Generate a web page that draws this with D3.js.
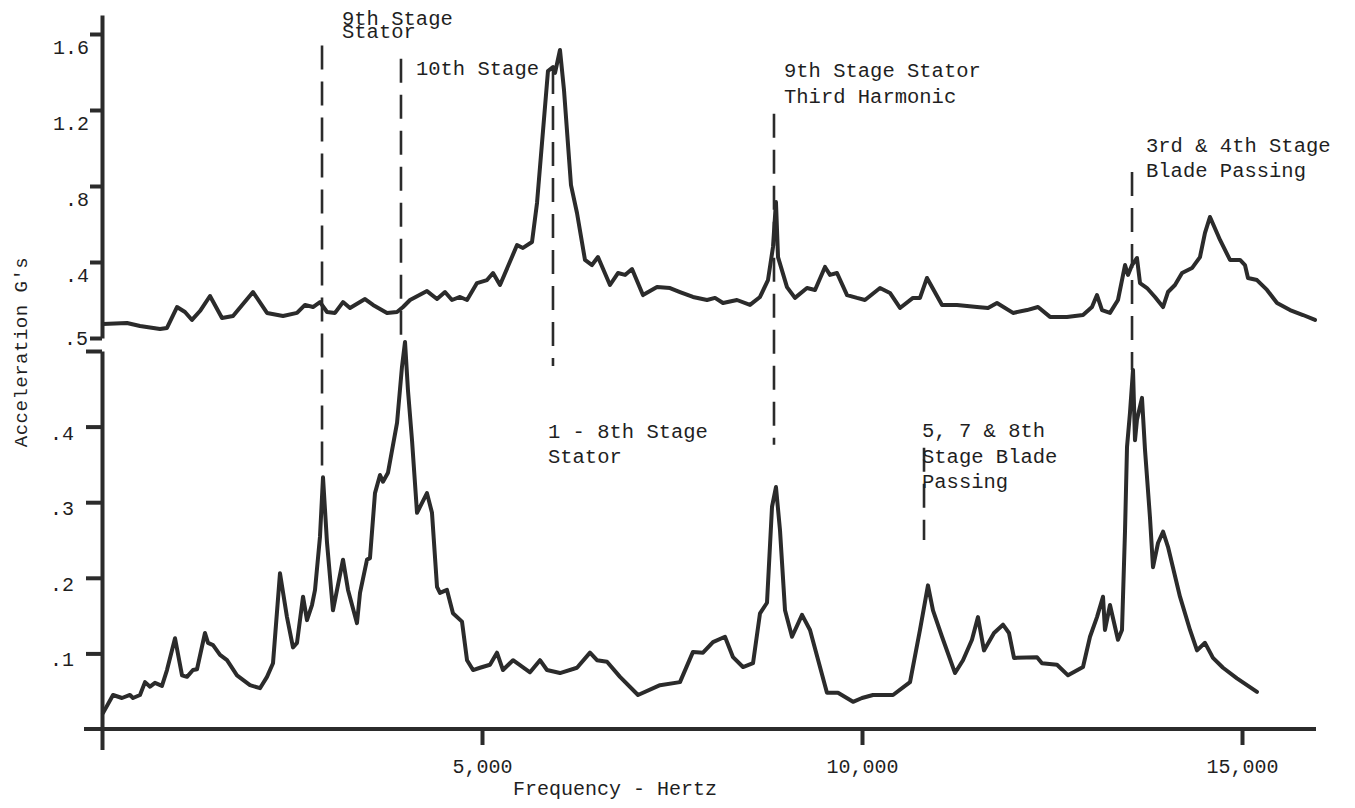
<!DOCTYPE html>
<html>
<head>
<meta charset="utf-8">
<title>Acceleration spectrum</title>
<script src="https://cdn.jsdelivr.net/npm/d3@7"></script>
<style>
  html, body { margin: 0; padding: 0; background: #ffffff; }
  svg { display: block; }
  text { font-family: "Liberation Mono", "Courier New", monospace; fill: #1f1f1f; }
</style>
</head>
<body>
<svg id="chart" width="1355" height="808"></svg>
<script>
// ---- Upper trace: frequency (Hz) and acceleration (G's)
const topFreq = [13, 329, 500, 763, 855, 987, 1092, 1184, 1289, 1421, 1579, 1724, 1987, 2171, 2382, 2566,
  2671, 2776, 2868, 2961, 3066, 3171, 3263, 3461, 3566, 3750, 3882, 3961, 4053, 4276, 4408, 4513, 4605,
  4711, 4803, 4934, 5066, 5145, 5237, 5461, 5539, 5658, 5724, 5868, 5934, 5961, 6026, 6079, 6171, 6250,
  6355, 6447, 6526, 6684, 6789, 6882, 6974, 7118, 7303, 7474, 7605, 7776, 7961, 8066, 8171, 8355, 8526,
  8658, 8763, 8829, 8868, 8895, 9013, 9118, 9276, 9382, 9513, 9579, 9671, 9803, 9934, 10039, 10237,
  10368, 10500, 10671, 10763, 10855, 10921, 11053, 11250, 11513, 11658, 11776, 11987, 12171, 12316,
  12474, 12697, 12908, 13026, 13092, 13158, 13263, 13368, 13461, 13500, 13553, 13618, 13658, 13750,
  13855, 13961, 14026, 14118, 14211, 14342, 14447, 14513, 14579, 14711, 14842, 14974, 15039, 15079,
  15197, 15329, 15461, 15632, 15803, 15961];
const topAccel = [0.074, 0.079, 0.063, 0.047, 0.053, 0.163, 0.137, 0.095, 0.142, 0.221, 0.105, 0.116, 0.242,
  0.132, 0.116, 0.132, 0.174, 0.163, 0.189, 0.137, 0.132, 0.189, 0.158, 0.205, 0.174, 0.132, 0.137, 0.163,
  0.200, 0.247, 0.205, 0.242, 0.200, 0.216, 0.200, 0.289, 0.305, 0.342, 0.279, 0.489, 0.474, 0.505, 0.711,
  1.405, 1.426, 1.395, 1.516, 1.305, 0.805, 0.658, 0.411, 0.384, 0.426, 0.279, 0.342, 0.332, 0.363, 0.226,
  0.268, 0.263, 0.242, 0.216, 0.200, 0.211, 0.184, 0.200, 0.174, 0.216, 0.305, 0.479, 0.716, 0.426, 0.268,
  0.211, 0.263, 0.253, 0.374, 0.332, 0.342, 0.226, 0.211, 0.200, 0.263, 0.237, 0.158, 0.211, 0.211, 0.316,
  0.268, 0.174, 0.174, 0.163, 0.158, 0.184, 0.132, 0.147, 0.163, 0.111, 0.111, 0.121, 0.163, 0.226, 0.147,
  0.132, 0.200, 0.384, 0.332, 0.384, 0.421, 0.289, 0.263, 0.216, 0.163, 0.242, 0.279, 0.342, 0.368, 0.426,
  0.553, 0.637, 0.516, 0.411, 0.411, 0.384, 0.316, 0.305, 0.253, 0.184, 0.147, 0.121, 0.095];

// ---- Lower trace: frequency (Hz) and acceleration (G's)
const bottomFreq = [13, 145, 263, 368, 408, 500, 566, 632, 697, 789, 855, 961, 1053, 1118, 1197, 1250, 1355,
  1395, 1461, 1553, 1645, 1776, 1947, 2079, 2171, 2250, 2342, 2434, 2513, 2566, 2645, 2697, 2763, 2803,
  2868, 2908, 2961, 3039, 3171, 3237, 3355, 3395, 3487, 3526, 3592, 3658, 3697, 3763, 3882, 3947, 3987,
  4026, 4079, 4145, 4211, 4276, 4342, 4408, 4447, 4539, 4618, 4737, 4803, 4882, 4974, 5105, 5197, 5276,
  5408, 5632, 5763, 5855, 6026, 6250, 6421, 6513, 6645, 6816, 7053, 7342, 7605, 7776, 7908, 8039, 8197,
  8303, 8434, 8566, 8658, 8750, 8816, 8868, 8921, 8987, 9079, 9211, 9316, 9539, 9684, 9882, 10000, 10145,
  10408, 10632, 10763, 10868, 10934, 11053, 11224, 11329, 11447, 11526, 11605, 11737, 11855, 11934, 12000,
  12303, 12368, 12566, 12711, 12908, 13000, 13092, 13171, 13197, 13263, 13368, 13421, 13461, 13487, 13526,
  13566, 13592, 13618, 13684, 13724, 13789, 13829, 13895, 13961, 14026, 14184, 14316, 14408, 14513, 14618,
  14750, 14934, 15197];
const bottomAccel = [0.021, 0.045, 0.041, 0.045, 0.041, 0.045, 0.062, 0.056, 0.061, 0.057, 0.078, 0.120, 0.071,
  0.069, 0.078, 0.079, 0.127, 0.114, 0.111, 0.098, 0.091, 0.071, 0.058, 0.054, 0.069, 0.087, 0.206, 0.148,
  0.108, 0.114, 0.175, 0.144, 0.164, 0.184, 0.254, 0.333, 0.246, 0.157, 0.224, 0.184, 0.140, 0.180, 0.224,
  0.226, 0.312, 0.336, 0.327, 0.339, 0.405, 0.479, 0.512, 0.448, 0.382, 0.286, 0.299, 0.312, 0.286, 0.188,
  0.180, 0.184, 0.153, 0.142, 0.091, 0.078, 0.081, 0.085, 0.101, 0.078, 0.091, 0.075, 0.091, 0.078, 0.074,
  0.081, 0.101, 0.091, 0.089, 0.069, 0.045, 0.058, 0.062, 0.102, 0.101, 0.115, 0.122, 0.095, 0.082, 0.087,
  0.153, 0.167, 0.294, 0.320, 0.263, 0.157, 0.122, 0.151, 0.131, 0.048, 0.048, 0.036, 0.041, 0.045, 0.045,
  0.062, 0.131, 0.190, 0.157, 0.122, 0.074, 0.091, 0.118, 0.148, 0.104, 0.127, 0.138, 0.127, 0.094, 0.095,
  0.087, 0.085, 0.071, 0.082, 0.122, 0.148, 0.175, 0.131, 0.164, 0.118, 0.131, 0.263, 0.373, 0.418, 0.475,
  0.382, 0.409, 0.438, 0.369, 0.280, 0.214, 0.246, 0.261, 0.241, 0.175, 0.131, 0.104, 0.114, 0.094, 0.081,
  0.067, 0.049];

// ---- Axis ticks
const xTickValues = [0, 5000, 10000, 15000];
const xTickLabels = ["", "5,000", "10,000", "15,000"];
const topTickValues = [0, 0.4, 0.8, 1.2, 1.6];
const topTickLabels = ["", ".4", ".8", "1.2", "1.6"];
const bottomTickValues = [0.1, 0.2, 0.3, 0.4, 0.5];
const bottomTickLabels = [".1", ".2", ".3", ".4", ".5"];

// ---- Identified source frequencies (Hz) and their captions
const markerFreq = [2895, 3934, 5934, 8842, 10816, 13553];
const markerLabels = [
  ["9th Stage", "Stator"],
  ["10th Stage"],
  ["1 - 8th Stage", "Stator"],
  ["9th Stage Stator", "Third Harmonic"],
  ["5, 7 & 8th", "Stage Blade", "Passing"],
  ["3rd & 4th Stage", "Blade Passing"]
];

// ---- Layout
const svg = d3.select("#chart");
const INK = "#2b2b2b";

const x = d3.scaleLinear().domain([0, 16000]).range([102, 1318]);
const yTop = d3.scaleLinear().domain([0, 1.7]).range([338, 15]);
const yBot = d3.scaleLinear().domain([0, 0.5]).range([729, 351]);

// where each dashed marker line starts and ends, in panel values
const markerSpan = [
  { from: [yTop, 1.54], to: [yBot, 0.343] },
  { from: [yTop, 1.47], to: [yBot, 0.515] },
  { from: [yTop, 1.41], to: [yBot, 0.48] },
  { from: [yTop, 1.18], to: [yBot, 0.376] },
  { from: [yBot, 0.372], to: [yBot, 0.25] },
  { from: [yTop, 0.874], to: [yBot, 0.475] }
];
// caption placement relative to each marker line
const captionPlace = [
  { dx: 20, y: 25, lh: 13 },
  { dx: 15, y: 75, lh: 25 },
  { dx: -5, y: 438, lh: 25 },
  { dx: 10, y: 77, lh: 26 },
  { dx: -2, y: 437, lh: 25.5 },
  { dx: 14, y: 152, lh: 25 }
];

// ---- Axes
function styleAxis(g) {
  g.selectAll("path.domain").attr("stroke", INK).attr("stroke-width", 4);
  g.selectAll(".tick line").attr("stroke", INK).attr("stroke-width", 4);
  g.selectAll(".tick text")
    .attr("fill", "#1f1f1f")
    .style("font-family", '"Liberation Mono", "Courier New", monospace')
    .style("font-size", "20px");
}

// upper vertical axis
const gTop = svg.append("g")
  .attr("transform", `translate(${x(0)},0)`)
  .call(d3.axisLeft(yTop)
    .tickValues(topTickValues)
    .tickFormat((d, i) => topTickLabels[i])
    .tickSize(12).tickSizeOuter(0).tickPadding(1))
  .call(styleAxis);
gTop.selectAll(".tick text").attr("dy", "0.95em");

// lower vertical axis
const gBot = svg.append("g")
  .attr("transform", `translate(${x(0)},0)`)
  .call(d3.axisLeft(yBot)
    .tickValues(bottomTickValues)
    .tickFormat((d, i) => bottomTickLabels[i])
    .tickSize(16).tickSizeOuter(0).tickPadding(12))
  .call(styleAxis);
gBot.selectAll(".tick text").attr("dy", "0.62em");
// the top caption of the lower scale sits tucked into the gap between panels
gBot.selectAll(".tick").filter(d => d === 0.5).select("text")
  .attr("dx", 14).attr("dy", "-0.35em");

// frequency axis
const gX = svg.append("g")
  .attr("transform", `translate(0,${yBot(0)})`)
  .call(d3.axisBottom(x)
    .tickValues(xTickValues)
    .tickFormat((d, i) => xTickLabels[i])
    .tickSize(16).tickSizeOuter(0).tickPadding(14))
  .call(styleAxis);
gX.select("path.domain").remove();
gX.append("line")
  .attr("x1", x.range()[0] - 18).attr("x2", x.range()[1] - 2)
  .attr("y1", 0).attr("y2", 0)
  .attr("stroke", INK).attr("stroke-width", 4);
gX.selectAll(".tick").filter(d => d === 0).select("line").attr("y2", 21);

// axis titles
svg.append("text")
  .attr("x", 615).attr("y", 795)
  .attr("text-anchor", "middle")
  .style("font-size", "20px")
  .text("Frequency - Hertz");

svg.append("text")
  .attr("transform", "translate(27,352) rotate(-90)")
  .attr("text-anchor", "middle")
  .style("font-size", "19px")
  .style("letter-spacing", "0.5px")
  .text("Acceleration G's");

// ---- Traces
const topSeries = topFreq.map((f, i) => [f, topAccel[i]]);
const bottomSeries = bottomFreq.map((f, i) => [f, bottomAccel[i]]);

const lineTop = d3.line().x(d => x(d[0])).y(d => yTop(d[1]));
const lineBot = d3.line().x(d => x(d[0])).y(d => yBot(d[1]));

svg.append("path")
  .datum(topSeries)
  .attr("d", lineTop)
  .attr("fill", "none")
  .attr("stroke", INK)
  .attr("stroke-width", 4)
  .attr("stroke-linejoin", "round")
  .attr("stroke-linecap", "round");

svg.append("path")
  .datum(bottomSeries)
  .attr("d", lineBot)
  .attr("fill", "none")
  .attr("stroke", INK)
  .attr("stroke-width", 4)
  .attr("stroke-linejoin", "round")
  .attr("stroke-linecap", "round");

// ---- Source markers with captions
const markers = svg.append("g");
markerFreq.forEach((f, i) => {
  const span = markerSpan[i];
  const mx = x(f);
  markers.append("line")
    .attr("x1", mx).attr("x2", mx)
    .attr("y1", span.from[0](span.from[1]))
    .attr("y2", span.to[0](span.to[1]))
    .attr("stroke", INK)
    .attr("stroke-width", 2.6)
    .attr("stroke-dasharray", "24,12");

  const place = captionPlace[i];
  const t = markers.append("text")
    .attr("x", mx + place.dx)
    .attr("y", place.y)
    .style("font-size", "20.5px");
  markerLabels[i].forEach((line, j) => {
    t.append("tspan")
      .attr("x", mx + place.dx)
      .attr("y", place.y + j * place.lh)
      .text(line);
  });
});
</script>
</body>
</html>
